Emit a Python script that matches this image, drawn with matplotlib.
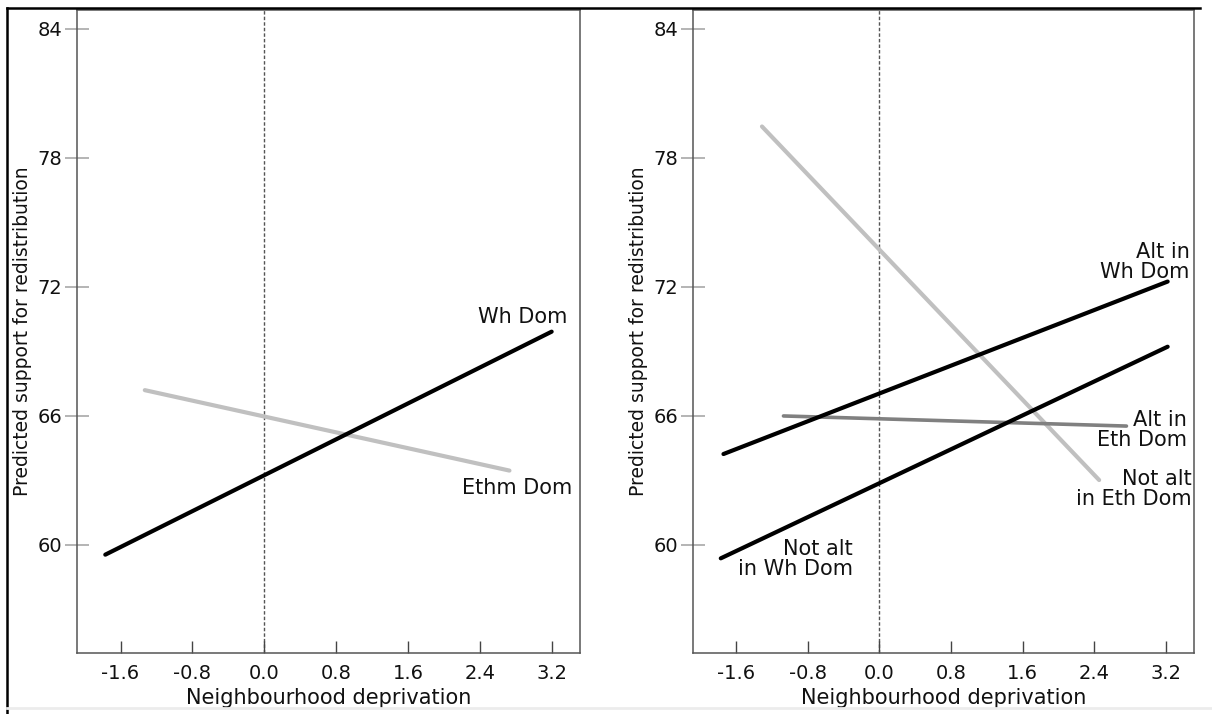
import numpy as np
import matplotlib.pyplot as plt
from matplotlib.lines import Line2D

# neighbourhood deprivation at both ends of each fitted line, and predicted support there

# left panel
wh_dom_x = [-1.77, 3.20]
wh_dom_y = [59.55, 69.92]
ethm_dom_x = [-1.33, 2.73]
ethm_dom_y = [67.2, 63.46]

# right panel
alt_wh_x = [-1.74, 3.22]
alt_wh_y = [64.23, 72.25]
notalt_wh_x = [-1.77, 3.22]
notalt_wh_y = [59.38, 69.22]
alt_eth_x = [-1.07, 2.76]
alt_eth_y = [66.0, 65.53]
notalt_eth_x = [-1.31, 2.455]
notalt_eth_y = [79.46, 63.02]

xticks = [-1.6, -0.8, 0.0, 0.8, 1.6, 2.4, 3.2]
yticks = [60, 66, 72, 78, 84]

black = '#000000'
light = '#c0c0c0'
mid = '#808080'

plt.rcParams['font.family'] = ['DejaVu Sans']

fig = plt.figure(figsize=(12.12, 7.14), dpi=100)
ax1 = fig.add_axes([0.0639, 0.0861, 0.4146, 0.900])
ax2 = fig.add_axes([0.5718, 0.0861, 0.4134, 0.900])


def setup(ax):
    ax.set_xlim(-2.08, 3.515)
    ax.set_ylim(55.0, 84.88)
    ax.set_xticks(xticks)
    ax.set_xticklabels(['%.1f' % t for t in xticks])
    ax.set_yticks(yticks)
    for s in ax.spines.values():
        s.set_color('#555555')
        s.set_linewidth(1.1)
    ax.tick_params(axis='x', direction='in', length=8.3, width=1.0,
                   color='#444444', pad=8.0, labelsize=14, labelcolor='#111111')
    ax.tick_params(axis='y', direction='inout', length=16.6, width=1.1,
                   color='#a0a0a0', pad=2.6, labelsize=14, labelcolor='#111111')
    ax.axvline(0, color='#555555', lw=1.0, ls=(0, (2.5, 1.5)), zorder=1)
    ax.set_xlabel('Neighbourhood deprivation', fontsize=15, labelpad=4, color='#111111')
    ax.set_ylabel('Predicted support for redistribution', fontsize=13.5, labelpad=4, color='#111111')


setup(ax1)
setup(ax2)

# left panel: white vs ethnic minority dominated
ax1.plot(ethm_dom_x, ethm_dom_y, color=light, lw=3.0, solid_capstyle='round', zorder=2)
ax1.plot(wh_dom_x, wh_dom_y, color=black, lw=3.0, solid_capstyle='round', zorder=3)
ax1.text(3.371, 70.6, 'Wh Dom', ha='right', va='center', fontsize=15, color='#111111')
ax1.text(3.426, 62.65, 'Ethm Dom', ha='right', va='center', fontsize=15, color='#111111')

# right panel: altruism split
ax2.plot(notalt_eth_x, notalt_eth_y, color=light, lw=3.0, solid_capstyle='round', zorder=2)
ax2.plot(alt_eth_x, alt_eth_y, color=mid, lw=2.6, solid_capstyle='round', zorder=2)
ax2.plot(alt_wh_x, alt_wh_y, color=black, lw=3.0, solid_capstyle='round', zorder=3)
ax2.plot(notalt_wh_x, notalt_wh_y, color=black, lw=3.0, solid_capstyle='round', zorder=3)
ax2.text(3.468, 73.14, 'Alt in\nWh Dom', ha='right', va='center', fontsize=15,
         color='#111111', linespacing=1.0, multialignment='right')
ax2.text(3.434, 65.35, 'Alt in\nEth Dom', ha='right', va='center', fontsize=15,
         color='#111111', linespacing=1.0, multialignment='right')
ax2.text(3.49, 62.6, 'Not alt\nin Eth Dom', ha='right', va='center', fontsize=15,
         color='#111111', linespacing=1.0, multialignment='right')
ax2.text(-0.294, 59.35, 'Not alt\nin Wh Dom', ha='right', va='center', fontsize=15,
         color='#111111', linespacing=1.0, multialignment='right')

# outer frame of the screenshot
W, H = 1212.0, 714.0
fig.add_artist(Line2D([7 / W, 7 / W], [0, 1 - 8 / H], transform=fig.transFigure, color='black', lw=1.8))
fig.add_artist(Line2D([7 / W, 1200 / W], [1 - 8 / H, 1 - 8 / H], transform=fig.transFigure, color='black', lw=1.8))
fig.add_artist(Line2D([7 / W, 1], [6 / H, 6 / H], transform=fig.transFigure, color='#ececec', lw=2))

plt.savefig('out.png')
